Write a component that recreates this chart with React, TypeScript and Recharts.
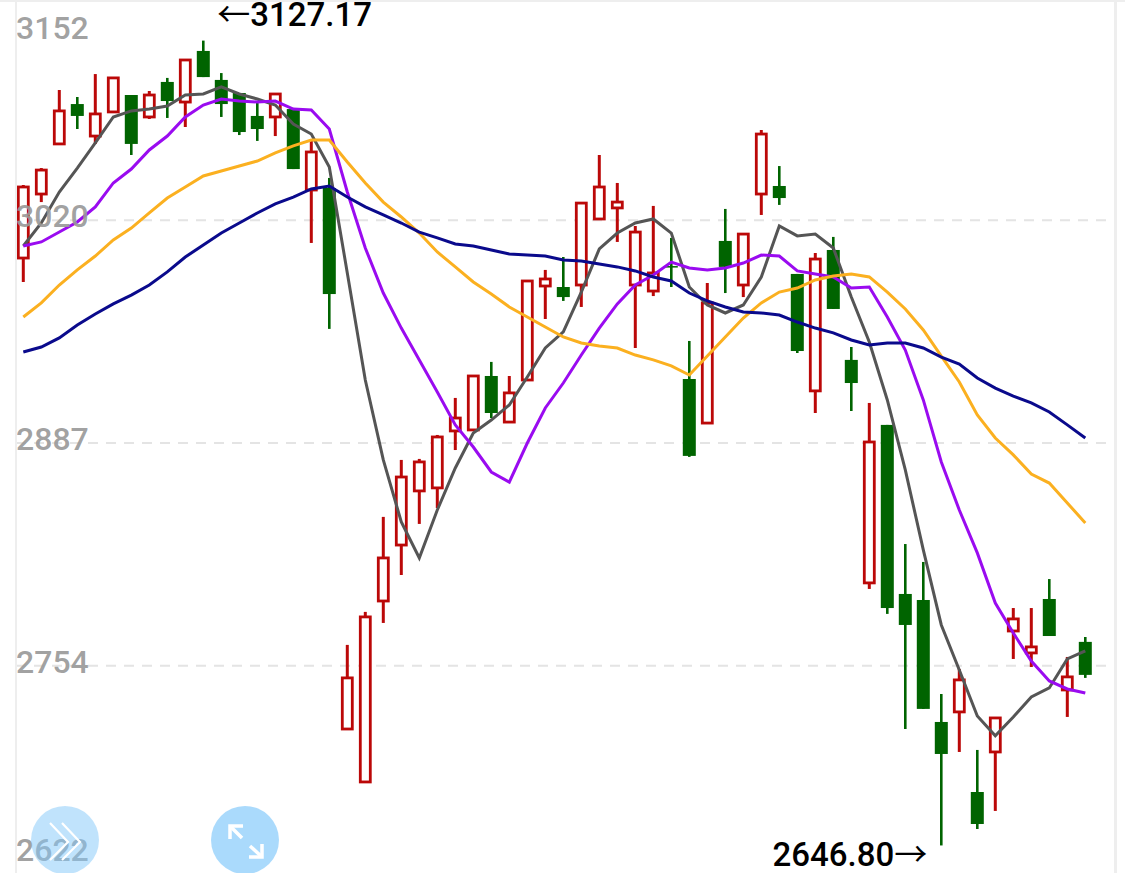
import React from "react";
import { ComposedChart, Bar, Line, XAxis, YAxis, CartesianGrid, ReferenceDot } from "recharts";

const opens = [2997.4,3035.6,3065.5,3089.3,3070.2,3084.6,3094.7,3081.6,3102.5,3090.5,3121.0,3103.7,3095.9,3082.2,3081.6,3086.3,3038.0,3039.2,2716.3,2684.7,2792.7,2826.1,2858.4,2860.2,2894.2,2894.8,2927.0,2899.5,2924.6,2980.7,2980.1,2981.3,3020.7,3027.3,2981.3,2977.7,2992.6,2925.2,2898.9,3007.6,2981.3,3035.6,3040.4,2987.9,2918.1,3002.2,2936.6,2803.5,2897.8,2796.9,2793.3,2720.5,2726.5,2678.7,2702.6,2774.8,2761.7,2793.9,2739.6,2768.3];
const closes = [3039.8,3049.9,3085.2,3082.2,3083.4,3104.9,3065.5,3094.7,3091.1,3115.6,3105.4,3089.3,3072.6,3074.4,3095.3,3050.5,3060.7,2975.9,2746.8,2783.2,2818.4,2866.7,2875.7,2890.6,2901.9,2927.0,2904.9,2916.9,2983.7,2984.9,2974.1,3030.2,3039.8,3030.8,3012.9,2988.5,2992.1,2879.3,2970.6,2992.1,3011.7,3071.4,3033.2,2941.9,2996.8,2967.0,2922.8,2887.6,2788.5,2778.4,2728.3,2701.4,2745.6,2659.6,2722.9,2782.0,2765.3,2771.8,2747.4,2748.6];
const highs = [3041.0,3051.1,3097.7,3093.5,3107.2,3104.9,3094.7,3097.1,3104.9,3115.6,3127.17,3107.8,3095.9,3091.1,3095.3,3086.3,3067.8,3045.2,2766.5,2786.2,2842.9,2876.9,2877.5,2891.8,2913.9,2927.0,2935.4,2927.0,2983.7,2990.3,2998.0,3030.8,3058.9,3042.2,3016.5,3028.5,3009.4,2947.9,2982.5,3026.7,3011.7,3073.8,3052.3,2987.9,3000.4,3010.0,2944.3,2910.9,2897.8,2826.7,2816.0,2737.2,2752.1,2703.8,2722.9,2788.5,2788.5,2805.8,2759.3,2771.2];
const lows = [2983.1,3030.8,3065.5,3074.4,3065.5,3084.6,3058.9,3080.4,3081.0,3075.6,3105.4,3081.6,3070.8,3067.3,3070.2,3050.5,3006.4,2955.1,2716.3,2684.7,2779.6,2808.2,2838.7,2848.2,2882.8,2894.8,2901.9,2899.5,2924.6,2961.0,2971.8,2968.2,3020.1,3007.0,2943.7,2974.7,2980.1,2878.7,2898.9,2976.5,2974.1,3023.1,3029.1,2940.7,2904.9,2967.0,2906.1,2799.9,2785.0,2716.3,2728.3,2646.8,2702.6,2656.6,2667.4,2758.1,2753.3,2771.8,2723.5,2746.8];
const ma5 = [3004.6,3018.3,3036.8,3051.1,3066.1,3081.6,3085.2,3086.3,3088.1,3094.7,3095.3,3099.5,3095.3,3092.3,3088.7,3077.4,3071.4,3051.7,2988.5,2924.6,2876.9,2839.9,2818.4,2847.0,2872.1,2893.0,2900.7,2909.7,2926.4,2943.7,2953.3,2977.1,3002.8,3012.3,3018.3,3020.7,3012.3,2980.1,2969.4,2964.6,2969.4,2986.1,3016.5,3010.6,3011.7,3003.4,2974.1,2947.3,2912.7,2870.9,2823.2,2778.4,2751.5,2724.1,2712.2,2723.5,2735.4,2740.8,2758.1,2762.9];
const ma10 = [3004.6,3007.0,3012.9,3018.9,3027.9,3042.2,3050.5,3061.9,3070.2,3081.6,3088.7,3092.3,3091.1,3090.5,3091.1,3086.3,3085.8,3074.4,3036.8,3003.4,2976.5,2955.6,2936.6,2917.5,2897.8,2884.6,2869.7,2863.7,2887.0,2907.9,2922.8,2939.5,2955.6,2970.0,2981.3,2987.3,2995.0,2991.5,2990.3,2991.5,2994.4,2999.2,2998.6,2989.7,2987.9,2986.1,2979.5,2980.1,2962.2,2942.5,2912.7,2875.7,2847.0,2821.4,2791.5,2773.6,2756.9,2745.0,2740.2,2737.8];
const ma20 = [2962.2,2970.6,2981.3,2990.3,2998.6,3008.2,3015.3,3024.3,3033.2,3039.8,3046.4,3049.3,3052.3,3055.3,3060.1,3064.3,3067.8,3067.8,3054.7,3042.2,3030.8,3021.9,3012.3,3001.0,2992.1,2983.1,2975.9,2968.2,2962.2,2956.2,2950.3,2946.7,2944.9,2943.7,2939.5,2936.6,2933.0,2927.6,2938.9,2950.3,2961.6,2970.6,2977.1,2979.5,2984.3,2986.7,2987.9,2986.1,2977.1,2967.0,2954.5,2938.9,2923.4,2903.7,2890.0,2879.9,2868.5,2863.1,2851.2,2839.3];
const ma60 = [2941.3,2944.3,2949.7,2957.4,2964.0,2970.0,2975.3,2981.3,2989.1,2998.0,3005.2,3012.3,3018.3,3024.3,3029.7,3033.8,3038.6,3040.4,3033.8,3027.9,3023.1,3018.3,3012.9,3009.4,3005.8,3004.6,3002.2,2999.8,2999.2,2998.6,2996.2,2995.6,2993.8,2992.1,2989.7,2986.1,2983.7,2976.5,2971.8,2968.2,2965.2,2964.6,2963.4,2959.2,2955.6,2952.7,2948.5,2945.5,2946.7,2946.7,2943.7,2938.3,2934.1,2925.8,2919.8,2915.0,2910.9,2905.5,2897.8,2890.0];
const priceTicks = [3152, 3020, 2887, 2754, 2622];
const maxLabel = "3127.17";
const minLabel = "2646.80";

const rows = opens.map((open, i) => ({
  day: i,
  open,
  close: closes[i],
  high: highs[i],
  low: lows[i],
  range: [lows[i], highs[i]],
  ma5: ma5[i],
  ma10: ma10[i],
  ma20: ma20[i],
  ma60: ma60[i],
}));

const FONT = "Roboto, sans-serif";
const ARROW_FONT = "Noto Sans CJK SC";
const RED = "#bb0808";
const GREEN = "#006400";

function Candle(props: any) {
  const { x, y, width, height, payload } = props;
  const cx = x + width / 2;
  const k = height / (payload.high - payload.low);
  const top = y + (payload.high - Math.max(payload.open, payload.close)) * k;
  const bottom = y + (payload.high - Math.min(payload.open, payload.close)) * k;
  const up = payload.close >= payload.open;
  if (up) {
    return (
      <g>
        <line x1={cx} x2={cx} y1={y} y2={y + height} stroke={RED} strokeWidth={3} />
        <rect x={cx - 5} y={top} width={10} height={Math.max(bottom - top, 1)} fill="#fff" stroke={RED} strokeWidth={2.8} />
      </g>
    );
  }
  return (
    <g>
      <line x1={cx} x2={cx} y1={y} y2={y + height} stroke={GREEN} strokeWidth={2.6} />
      <rect x={cx - 6.5} y={top} width={13} height={Math.max(bottom - top, 1.5)} fill={GREEN} />
    </g>
  );
}

function PriceLabel(props: any) {
  const { viewBox, value } = props;
  const dy = value === priceTicks[0] ? 40 : value === priceTicks[4] ? -26 : 7;
  return (
    <text x={16} y={viewBox.y + dy} fontFamily={FONT} fontSize={32} fontWeight={500} fill="#999" fillOpacity={0.92} textAnchor="start">
      {value}
    </text>
  );
}

function Note(props: any) {
  const { viewBox, text, dx, dy, anchor, arrow, arrowFirst } = props;
  return (
    <text x={viewBox.x + dx} y={viewBox.y + dy} textAnchor={anchor} fontFamily={FONT} fontSize={33} fontWeight={500} fill="#000">
      {arrowFirst ? <tspan fontFamily={ARROW_FONT} fontWeight={400}>{arrow}</tspan> : null}
      <tspan>{text}</tspan>
      {arrowFirst ? null : <tspan fontFamily={ARROW_FONT} fontWeight={400}>{arrow}</tspan>}
    </text>
  );
}

const Round = ({ left, color, children, width }: any) => (
  <div
    style={{
      position: "absolute",
      left,
      top: 806,
      width: 68,
      height: 68,
      borderRadius: "50%",
      background: color,
    }}
  >
    <svg width={68} height={68} style={{ position: "absolute", left: 0, top: 0 }}>
      <g fill="none" stroke="#fff" strokeWidth={width}>{children}</g>
    </svg>
  </div>
);

export default function App() {
  return (
    <div style={{ position: "absolute", left: 0, top: 0, width: 1125, height: 873, overflow: "hidden", background: "#fff" }}>
      <div style={{ position: "absolute", left: 0, top: -1 }}>
        <ComposedChart width={1125} height={888} data={rows} margin={{ top: 0, right: 10, bottom: 0, left: 16 }}>
          <CartesianGrid horizontal vertical={false} stroke="#e4e4e4" strokeWidth={2} strokeDasharray="10 8" />
          <XAxis dataKey="day" hide scale="point" padding={{ left: 7.3, right: 29.7 }} />
          <YAxis
            type="number"
            domain={[2622, 3152]}
            ticks={priceTicks}
            interval={0}
            hide
            allowDataOverflow
          />
          <Bar dataKey="range" barSize={14} shape={<Candle />} isAnimationActive={false} />
          <Line dataKey="ma5" stroke="#555555" strokeWidth={3} dot={false} isAnimationActive={false} />
          <Line dataKey="ma10" stroke="#9a0bf0" strokeWidth={3} dot={false} isAnimationActive={false} />
          <Line dataKey="ma20" stroke="#fbb020" strokeWidth={3} dot={false} isAnimationActive={false} />
          <Line dataKey="ma60" stroke="#0a0a8c" strokeWidth={3} dot={false} isAnimationActive={false} />
          {priceTicks.map((t) => (
            <ReferenceDot key={t} x={0} y={t} r={0} stroke="none" ifOverflow="visible" label={<PriceLabel value={t} />} />
          ))}
          <ReferenceDot x={10} y={highs[10]} r={0} stroke="none" label={<Note text={maxLabel} arrow="←" arrowFirst dx={14} dy={-15} anchor="start" />} />
          <ReferenceDot x={51} y={lows[51]} r={0} stroke="none" label={<Note text={minLabel} arrow="→" dx={-14} dy={21} anchor="end" />} />
        </ComposedChart>
      </div>
      <div style={{ position: "absolute", left: 15, top: 0, width: 2, height: 873, background: "#eeeeee" }} />
      <div style={{ position: "absolute", left: 1114, top: 0, width: 3, height: 873, background: "#eeeeee" }} />
      <div style={{ position: "absolute", left: 0, top: 0, width: 1125, height: 2, background: "#eeeeee" }} />
      <Round left={31} color="rgba(130,200,250,0.5)" width={2.2}>
        <path d="M19 17 L37 36 L19 54" />
        <path d="M31 17 L49 36 L31 54" />
      </Round>
      <Round left={211} color="rgba(130,200,250,0.68)" width={3.5}>
        <path d="M20 21 L31 32" />
        <path d="M39 40 L50 50" />
        <path d="M19 33 V20 H32" />
        <path d="M51 38 V51 H38" />
      </Round>
    </div>
  );
}
